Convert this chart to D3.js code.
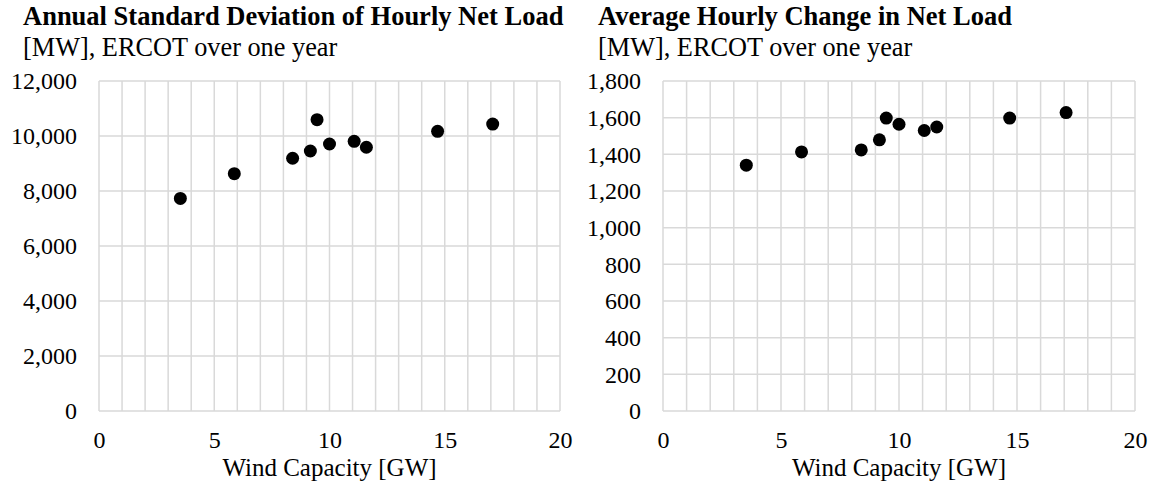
<!DOCTYPE html>
<html>
<head>
<meta charset="utf-8">
<script src="https://cdn.jsdelivr.net/npm/d3@7"></script>
<style>
  html, body { margin: 0; padding: 0; background: #fff; }
  svg { display: block; }
  svg text { font-family: "Liberation Serif", "Times New Roman", serif; fill: #000; }
</style>
</head>
<body>
<svg id="chart" width="1156" height="484"></svg>
<script>
// Installed wind capacity in ERCOT [GW], one entry per year
const windCapacity = [3.53, 5.87, 8.40, 9.17, 9.46, 10.0, 11.07, 11.6, 14.69, 17.08];
// Annual standard deviation of hourly net load [MW]
const netLoadStdDev = [7730, 8630, 9190, 9455, 10595, 9710, 9805, 9590, 10170, 10435];
// Average hourly change in net load [MW]
const netLoadHourlyChange = [1341, 1413, 1424, 1479, 1598, 1564, 1530, 1549, 1598, 1628];

const xTicks = [0, 5, 10, 15, 20];
const yTicksLeft = [0, 2000, 4000, 6000, 8000, 10000, 12000];
const yTicksRight = [0, 200, 400, 600, 800, 1000, 1200, 1400, 1600, 1800];

const panels = [
  {
    title: "Annual Standard Deviation of Hourly Net Load",
    subtitle: "[MW], ERCOT over one year",
    values: netLoadStdDev,
    yTicks: yTicksLeft,
    titleX: 23,
    plot: { left: 99, right: 560, top: 81, bottom: 411 }
  },
  {
    title: "Average Hourly Change in Net Load",
    subtitle: "[MW], ERCOT over one year",
    values: netLoadHourlyChange,
    yTicks: yTicksRight,
    titleX: 598,
    plot: { left: 663, right: 1135, top: 81, bottom: 411 }
  }
];

const svg = d3.select("#chart");
const gridColor = "#d9d9d9";
const fmt = d3.format(",");
const serif = '"Liberation Serif", "Times New Roman", serif';

panels.forEach(p => {
  const g = svg.append("g");
  const x = d3.scaleLinear().domain([0, 20]).range([p.plot.left, p.plot.right]);
  const y = d3.scaleLinear().domain([0, d3.max(p.yTicks)]).range([p.plot.bottom, p.plot.top]);

  // Titles
  g.append("text")
    .attr("x", p.titleX).attr("y", 25)
    .style("font-size", "26.5px").style("font-weight", "bold")
    .text(p.title);
  g.append("text")
    .attr("x", p.titleX).attr("y", 56)
    .style("font-size", "26.3px")
    .text(p.subtitle);

  // Vertical gridlines every 1 GW
  g.append("g")
    .selectAll("line")
    .data(d3.range(0, 21))
    .join("line")
    .attr("x1", d => x(d)).attr("x2", d => x(d))
    .attr("y1", p.plot.top).attr("y2", p.plot.bottom)
    .attr("stroke", gridColor).attr("stroke-width", 1.5);

  // Horizontal gridlines at each y tick
  g.append("g")
    .selectAll("line")
    .data(p.yTicks)
    .join("line")
    .attr("x1", p.plot.left).attr("x2", p.plot.right)
    .attr("y1", d => y(d)).attr("y2", d => y(d))
    .attr("stroke", gridColor).attr("stroke-width", 1.5);

  // Y axis labels
  const yAxis = d3.axisLeft(y).tickValues(p.yTicks).tickFormat(fmt).tickSize(0).tickPadding(22);
  const ya = g.append("g").attr("transform", `translate(${p.plot.left},0)`).call(yAxis);
  ya.select(".domain").remove();
  ya.selectAll("text").style("font-size", "24px").style("font-family", serif).style("fill", "#000");

  // X axis labels
  const xAxis = d3.axisBottom(x).tickValues(xTicks).tickSize(0).tickPadding(22);
  const xa = g.append("g").attr("transform", `translate(0,${p.plot.bottom})`).call(xAxis);
  xa.select(".domain").remove();
  xa.selectAll("text").attr("dy", null).attr("y", 37)
    .style("font-size", "24px").style("font-family", serif).style("fill", "#000");

  // X axis title
  g.append("text")
    .attr("x", (p.plot.left + p.plot.right) / 2).attr("y", 476)
    .attr("text-anchor", "middle")
    .style("font-size", "25px")
    .text("Wind Capacity [GW]");

  // Points
  g.append("g")
    .selectAll("circle")
    .data(windCapacity.map((w, i) => ({ w, v: p.values[i] })))
    .join("circle")
    .attr("cx", d => x(d.w))
    .attr("cy", d => y(d.v))
    .attr("r", 6.5)
    .attr("fill", "#000");
});
</script>
</body>
</html>
